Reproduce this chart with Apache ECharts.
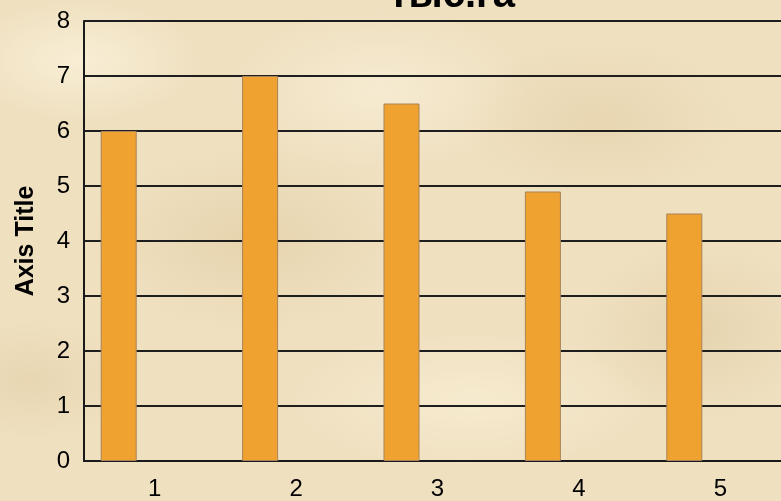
<!DOCTYPE html>
<html>
<head>
<meta charset="utf-8">
<script src="https://cdn.jsdelivr.net/npm/echarts@6/dist/echarts.min.js"></script>
<style>
html,body{margin:0;padding:0;}
body{
  width:781px;height:501px;overflow:hidden;position:relative;
  background:
    radial-gradient(ellipse 120px 60px at 80px 60px, rgba(255,248,228,0.6), rgba(255,248,228,0) 100%),
    radial-gradient(ellipse 160px 90px at 250px 240px, rgba(214,190,140,0.35), rgba(214,190,140,0) 100%),
    radial-gradient(ellipse 140px 80px at 600px 120px, rgba(220,196,150,0.35), rgba(220,196,150,0) 100%),
    radial-gradient(ellipse 180px 70px at 470px 400px, rgba(255,246,222,0.5), rgba(255,246,222,0) 100%),
    radial-gradient(ellipse 120px 90px at 700px 330px, rgba(210,186,138,0.3), rgba(210,186,138,0) 100%),
    radial-gradient(ellipse 100px 60px at 30px 380px, rgba(218,196,150,0.35), rgba(218,196,150,0) 100%),
    radial-gradient(ellipse 150px 80px at 380px 90px, rgba(255,248,230,0.45), rgba(255,248,230,0) 100%),
    #EFE0C0;
}
#chart{width:800px;height:501px;position:absolute;left:0;top:0;}
</style>
</head>
<body>
<div id="chart"></div>
<script>
var categories = ['1','2','3','4','5'];
var values = [6, 7, 6.5, 4.9, 4.5];
var emptySeriesA = [null, null, null, null, null];
var emptySeriesB = [null, null, null, null, null];
var yTicks = {min: 0, max: 8, interval: 1};
var titleText = 'тыс.га';
var yAxisTitle = 'Axis Title';

var chart = echarts.init(document.getElementById('chart'), null, {renderer: 'canvas'});
var barStyle = {color: '#EFA22F', borderColor: '#A88458', borderWidth: 1};
chart.setOption({
  backgroundColor: 'transparent',
  animation: false,
  title: {
    text: titleText,
    left: 447, textAlign: 'center', top: -29,
    textStyle: {fontFamily: 'Liberation Sans', fontWeight: 'bold', fontSize: 40, color: '#000'}
  },
  grid: {left: 84, top: 21, right: 9, bottom: 38, containLabel: false},
  xAxis: {
    type: 'category',
    data: categories,
    axisLine: {lineStyle: {color: '#1a1a1a', width: 2}},
    axisTick: {show: false},
    axisLabel: {fontFamily: 'Liberation Sans', fontSize: 24, color: '#000', margin: 16}
  },
  yAxis: {
    type: 'value',
    min: yTicks.min, max: yTicks.max, interval: yTicks.interval,
    name: yAxisTitle,
    nameLocation: 'middle',
    nameGap: 45,
    nameTextStyle: {fontFamily: 'Liberation Sans', fontWeight: 'bold', fontSize: 25, color: '#000'},
    axisLine: {show: true, lineStyle: {color: '#1a1a1a', width: 2}},
    axisTick: {show: false},
    axisLabel: {fontFamily: 'Liberation Sans', fontSize: 24, color: '#000', margin: 14},
    splitLine: {lineStyle: {color: '#1e1e1e', width: 2}}
  },
  series: [
    {type: 'bar', data: values, barWidth: 36, barGap: '0%', itemStyle: barStyle},
    {type: 'bar', data: emptySeriesA, barWidth: 36, barGap: '0%', itemStyle: barStyle},
    {type: 'bar', data: emptySeriesB, barWidth: 36, barGap: '0%', itemStyle: barStyle}
  ]
});
</script>
</body>
</html>
